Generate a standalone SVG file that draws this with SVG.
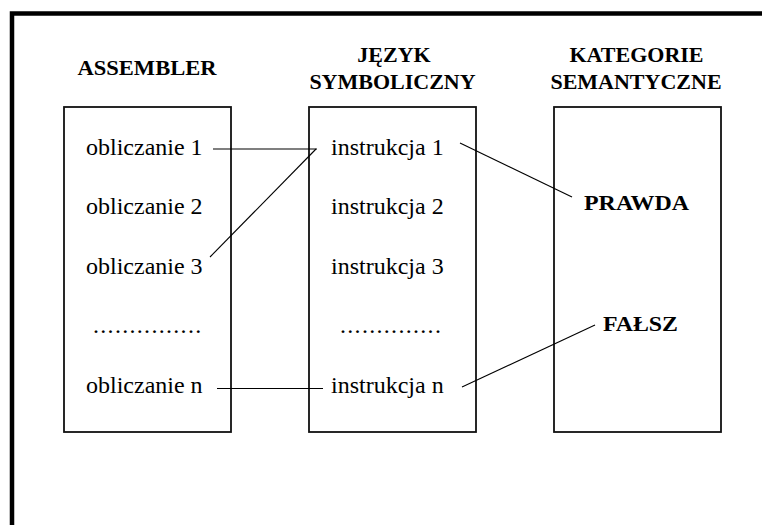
<svg xmlns="http://www.w3.org/2000/svg" width="762" height="525" viewBox="0 0 762 525">
<style>
.box{fill:none;stroke:#111;stroke-width:1.8}
.hd{font-family:"Liberation Serif","Times New Roman",serif;font-weight:bold;font-size:22px;fill:#000}
.tx{font-family:"Liberation Serif","Times New Roman",serif;font-size:24px;fill:#000}
.dots{font-family:"Liberation Serif","Times New Roman",serif;font-size:24px;fill:#000;letter-spacing:1.3px}
.cn{fill:none;stroke:#000;stroke-width:1.1}
</style>
<rect x="0" y="0" width="762" height="525" fill="#fff"/>
<path d="M12,525 V13.5 H762" fill="none" stroke="#000" stroke-width="4.5"/>
<g id="assembler">
<text class="hd" x="147" y="75" text-anchor="middle" textLength="139" lengthAdjust="spacingAndGlyphs">ASSEMBLER</text>
<rect class="box" x="64" y="107" width="167" height="325"/>
<text class="tx" x="86" y="155">obliczanie 1</text>
<text class="tx" x="86" y="214">obliczanie 2</text>
<text class="tx" x="86" y="274">obliczanie 3</text>
<text class="dots" x="93" y="333">...............</text>
<text class="tx" x="86" y="393">obliczanie n</text>
</g>
<g id="jezyk">
<text class="hd" x="394" y="62" text-anchor="middle">JĘZYK</text>
<text class="hd" x="392.5" y="89" text-anchor="middle">SYMBOLICZNY</text>
<rect class="box" x="309" y="107" width="167" height="325"/>
<text class="tx" x="331" y="155">instrukcja 1</text>
<text class="tx" x="331" y="214">instrukcja 2</text>
<text class="tx" x="331" y="274">instrukcja 3</text>
<text class="dots" x="340" y="333">..............</text>
<text class="tx" x="331" y="393">instrukcja n</text>
</g>
<g id="kategorie">
<text class="hd" x="636.5" y="62" text-anchor="middle">KATEGORIE</text>
<text class="hd" x="636" y="89" text-anchor="middle">SEMANTYCZNE</text>
<rect class="box" x="554" y="107" width="167" height="325"/>
<text class="hd" x="584" y="210" textLength="105" lengthAdjust="spacingAndGlyphs">PRAWDA</text>
<text class="hd" x="603" y="331" textLength="75" lengthAdjust="spacingAndGlyphs">FAŁSZ</text>
</g>
<g id="connectors">
<line class="cn" x1="213" y1="149" x2="317" y2="149"/>
<line class="cn" x1="210" y1="257" x2="316" y2="149"/>
<line class="cn" x1="460" y1="143" x2="572" y2="197"/>
<line class="cn" x1="217" y1="388.5" x2="323" y2="388.5"/>
<line class="cn" x1="462" y1="387" x2="595" y2="325"/>
</g>
</svg>
